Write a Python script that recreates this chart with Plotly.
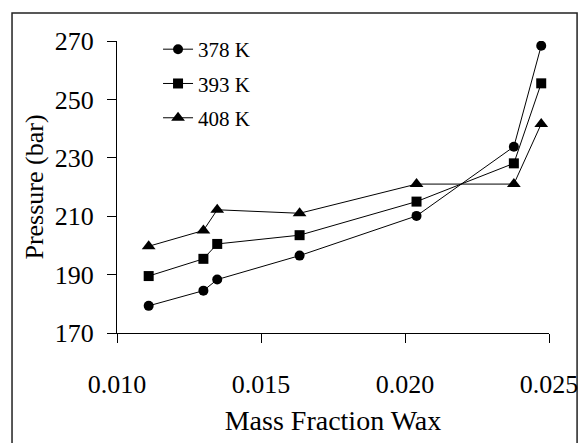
import plotly.graph_objects as go

mass_fraction = [0.0111, 0.0130, 0.01348, 0.01634, 0.0204, 0.02378, 0.02473]
p_378 = [179.3, 184.5, 188.3, 196.5, 210.1, 233.8, 268.4]
p_393 = [189.5, 195.4, 200.5, 203.5, 215.0, 228.1, 255.5]
p_408 = [199.7, 205.1, 212.2, 211.0, 221.0, 221.0, 241.6]
series_names = ["378 K", "393 K", "408 K"]
x_ticks = [0.010, 0.015, 0.020, 0.025]
y_ticks = [170, 190, 210, 230, 250, 270]

FONT = "Liberation Serif"

fig = go.Figure()
symbols = ["circle", "square", "triangle-up"]
sizes = [10, 10, 12]
for name, vals, sym, sz in zip(series_names, [p_378, p_393, p_408], symbols, sizes):
    fig.add_trace(go.Scatter(
        x=mass_fraction, y=vals, name=name, mode="lines+markers",
        line=dict(color="black", width=1),
        marker=dict(symbol=sym, size=sz, color="black"),
        legendgroup=name,
    ))

fig.update_layout(
    width=580, height=443, autosize=False,
    margin=dict(l=117, r=31, t=41, b=110, autoexpand=False),
    paper_bgcolor="white", plot_bgcolor="white",
    font=dict(family=FONT, size=26, color="black"),
    showlegend=True,
    legend=dict(x=0.095, y=1.041, xanchor="left", yanchor="top",
                font=dict(family=FONT, size=21, color="black"),
                bgcolor="rgba(0,0,0,0)", tracegroupgap=4),
    shapes=[dict(type="rect", xref="paper", yref="paper",
                 x0=-0.243, x1=1.065, y0=-0.45, y1=1.096,
                 line=dict(color="#222222", width=1.5), layer="below")],
)
fig.update_xaxes(
    range=[0.010, 0.025], tickvals=x_ticks, ticktext=[f"{v:.3f}" for v in x_ticks],
    showgrid=False, zeroline=False, showline=True, linecolor="black", linewidth=1,
    ticks="outside", ticklen=9, tickcolor="black", automargin=False,
    ticklabelstandoff=19,
    title=dict(text="Mass Fraction Wax", standoff=12, font=dict(family=FONT, size=28)),
    tickfont=dict(family=FONT, size=26),
)
fig.update_yaxes(
    range=[170, 270], tickvals=y_ticks,
    showgrid=False, zeroline=False, showline=True, linecolor="black", linewidth=1,
    ticks="outside", ticklen=9, tickcolor="black", automargin=False,
    ticklabelstandoff=8,
    title=dict(text="Pressure (bar)", standoff=3, font=dict(family=FONT, size=26)),
    tickfont=dict(family=FONT, size=26),
)

fig.write_html("out.html", config={"displayModeBar": False},
               post_script="document.body.style.margin='0';document.body.style.overflow='hidden';")
